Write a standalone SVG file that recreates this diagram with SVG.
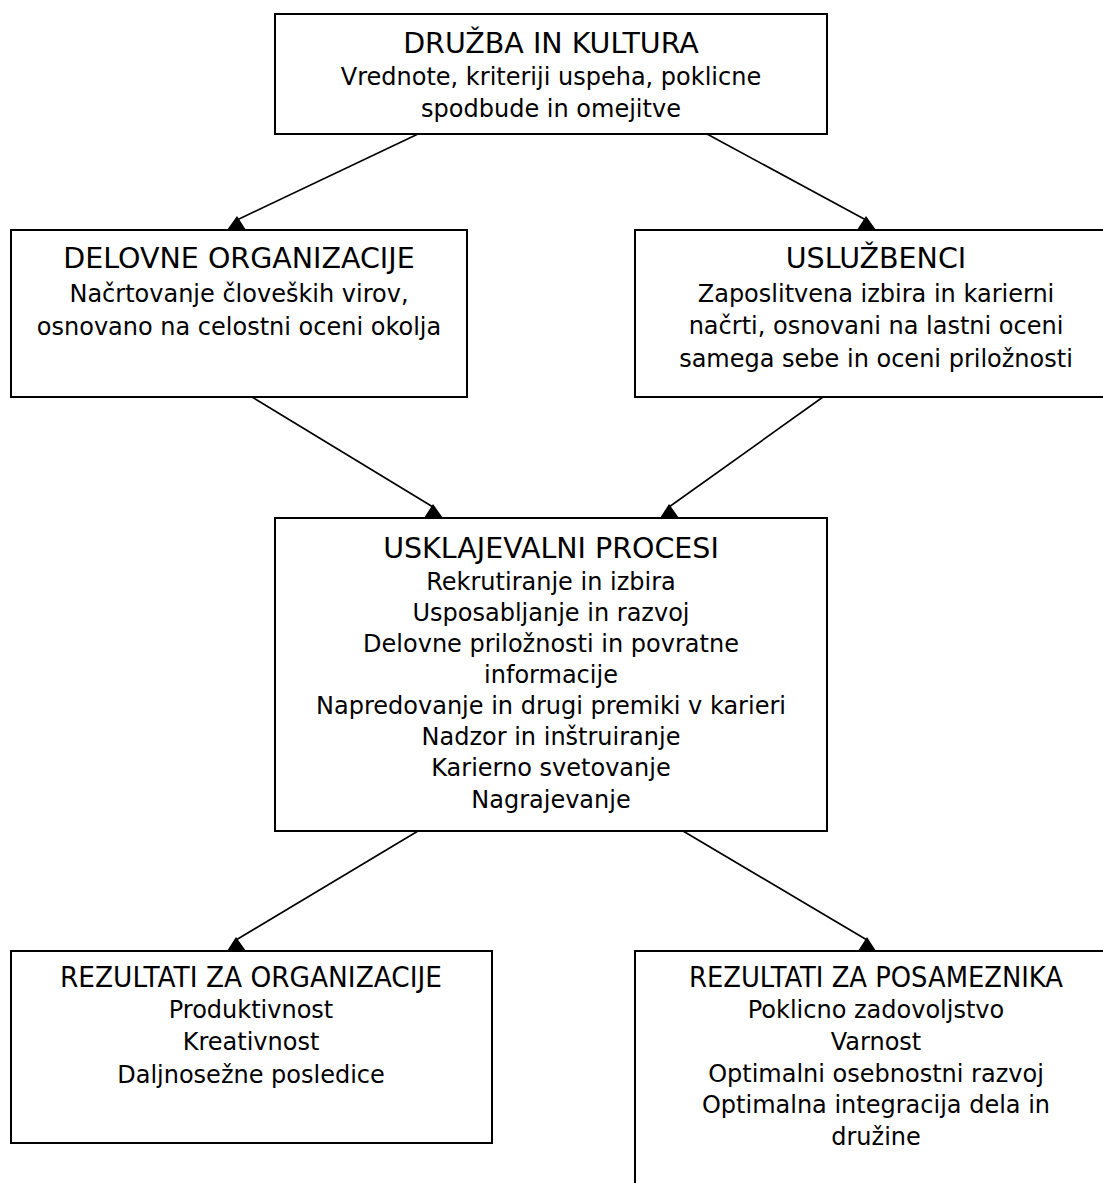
<svg xmlns="http://www.w3.org/2000/svg" width="1103" height="1183" viewBox="0 0 1103 1183">
<style>
.box{fill:#fff;stroke:#000;stroke-width:2}
.t{font-family:"DejaVu Sans",sans-serif;fill:#000;text-anchor:middle}
.h{font-size:28.5px}
.b{font-size:24px}
.ln{stroke:#000;stroke-width:1.6;fill:none}
.ah{fill:#000}
</style>
<rect width="1103" height="1183" fill="#fff"/>
<g id="connectors">
<line class="ln" x1="418" y1="134" x2="237" y2="220"/>
<polygon class="ah" points="237,216 227,230 246,230"/>
<line class="ln" x1="707" y1="134" x2="866" y2="220"/>
<polygon class="ah" points="866,216 857,230 876,230"/>
<line class="ln" x1="252" y1="397" x2="433" y2="507"/>
<polygon class="ah" points="433,504 424,518 443,518"/>
<line class="ln" x1="823" y1="397" x2="669" y2="507"/>
<polygon class="ah" points="669,504 660,518 679,518"/>
<line class="ln" x1="418" y1="831" x2="236" y2="940"/>
<polygon class="ah" points="236,937 227,951 246,951"/>
<line class="ln" x1="683" y1="831" x2="867" y2="940"/>
<polygon class="ah" points="867,937 858,951 876,951"/>
</g>
<g id="druzba">
<rect class="box" x="275" y="14" width="552" height="120"/>
<text class="t h" x="551" y="53">DRUŽBA IN KULTURA</text>
<text class="t b" x="551" y="85">Vrednote, kriteriji uspeha, poklicne</text>
<text class="t b" x="551" y="117">spodbude in omejitve</text>
</g>
<g id="delovne">
<rect class="box" x="11" y="230" width="456" height="167"/>
<text class="t h" x="239" y="268">DELOVNE ORGANIZACIJE</text>
<text class="t b" x="239" y="302">Načrtovanje človeških virov,</text>
<text class="t b" x="239" y="335">osnovano na celostni oceni okolja</text>
</g>
<g id="usluzbenci">
<rect class="box" x="635" y="230" width="485" height="167"/>
<text class="t h" x="876" y="268">USLUŽBENCI</text>
<text class="t b" x="876" y="302">Zaposlitvena izbira in karierni</text>
<text class="t b" x="876" y="334">načrti, osnovani na lastni oceni</text>
<text class="t b" x="876" y="367">samega sebe in oceni priložnosti</text>
</g>
<g id="usklajevalni">
<rect class="box" x="275" y="518" width="552" height="313"/>
<text class="t h" x="551" y="558">USKLAJEVALNI PROCESI</text>
<text class="t b" x="551" y="590">Rekrutiranje in izbira</text>
<text class="t b" x="551" y="621">Usposabljanje in razvoj</text>
<text class="t b" x="551" y="652">Delovne priložnosti in povratne</text>
<text class="t b" x="551" y="683">informacije</text>
<text class="t b" x="551" y="714">Napredovanje in drugi premiki v karieri</text>
<text class="t b" x="551" y="745">Nadzor in inštruiranje</text>
<text class="t b" x="551" y="776">Karierno svetovanje</text>
<text class="t b" x="551" y="808">Nagrajevanje</text>
</g>
<g id="rez-org">
<rect class="box" x="11" y="951" width="481" height="192"/>
<text class="t h" x="251" y="987" textLength="382" lengthAdjust="spacingAndGlyphs">REZULTATI ZA ORGANIZACIJE</text>
<text class="t b" x="251" y="1018">Produktivnost</text>
<text class="t b" x="251" y="1050">Kreativnost</text>
<text class="t b" x="251" y="1083">Daljnosežne posledice</text>
</g>
<g id="rez-pos">
<rect class="box" x="635" y="951" width="485" height="260"/>
<text class="t h" x="876" y="987" textLength="374" lengthAdjust="spacingAndGlyphs">REZULTATI ZA POSAMEZNIKA</text>
<text class="t b" x="876" y="1018">Poklicno zadovoljstvo</text>
<text class="t b" x="876" y="1050">Varnost</text>
<text class="t b" x="876" y="1082">Optimalni osebnostni razvoj</text>
<text class="t b" x="876" y="1113">Optimalna integracija dela in</text>
<text class="t b" x="876" y="1145">družine</text>
</g>
</svg>
